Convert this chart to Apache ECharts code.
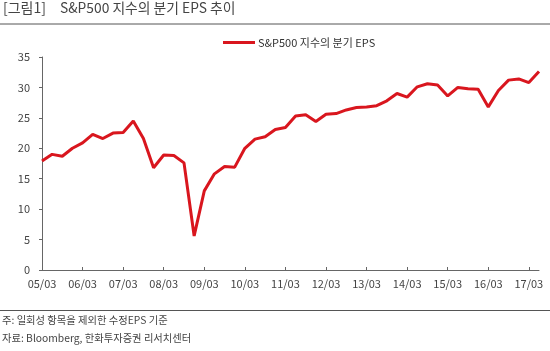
<!DOCTYPE html>
<html>
<head>
    <meta charset="utf-8">
    <title>S&amp;P500 분기 EPS</title>
    <script type="text/javascript" src="https://cdn.jsdelivr.net/npm/echarts@6/dist/echarts.min.js"></script>
    <style>
        body { margin: 0; background: #fff; }
        #main { width: 550px; height: 351px; }
    </style>
</head>
<body>
<div id="main"></div>

<script type="text/javascript">
    // 분기 라벨 (05/03 ~ 17/06)
    var quarters = [];
    for (var y = 5; y <= 17; y++) {
        var yy = (y < 10 ? '0' : '') + y;
        ['03', '06', '09', '12'].forEach(function (m) { quarters.push(yy + '/' + m); });
    }
    quarters = quarters.slice(0, 50);

    // 분기 EPS
    var eps = [
        17.9, 19.0, 18.7, 20.0, 20.9, 22.3, 21.6, 22.5,
        22.6, 24.5, 21.6, 16.8, 18.9, 18.8, 17.6, 5.6,
        13.0, 15.8, 17.0, 16.9, 20.0, 21.5, 21.9, 23.1,
        23.4, 25.3, 25.5, 24.4, 25.6, 25.7, 26.3, 26.7,
        26.8, 27.0, 27.8, 29.0, 28.4, 30.1, 30.6, 30.4,
        28.6, 30.0, 29.8, 29.7, 26.8, 29.5, 31.2, 31.4,
        30.8, 32.6
    ];

    var yTicks = [0, 5, 10, 15, 20, 25, 30, 35];
    var seriesName = 'S&P500 지수의 분기 EPS';
    var font = '"Noto Sans CJK KR", "Noto Sans", sans-serif';

    var myChart = echarts.init(document.getElementById('main'));
    var option = {
        backgroundColor: '#fff',
        animation: false,
        textStyle: { fontFamily: font },
        legend: {
            data: [seriesName],
            top: 32,
            left: 218,
            itemWidth: 32,
            itemHeight: 3,
            itemGap: 2,
            icon: 'rect',
            textStyle: { fontSize: 11, color: '#333', fontFamily: font, padding: [0, 0, 0, -2] }
        },
        grid: { left: 42, right: 11, top: 57, bottom: 81 },
        xAxis: {
            type: 'category',
            data: quarters,
            boundaryGap: false,
            axisLine: { lineStyle: { color: '#666' } },
            axisTick: { inside: true, length: 3, interval: 3, lineStyle: { color: '#666' } },
            axisLabel: { interval: 3, color: '#444', fontSize: 11, margin: 8 }
        },
        yAxis: {
            type: 'value',
            min: yTicks[0],
            max: yTicks[yTicks.length - 1],
            interval: 5,
            axisLine: { show: true, lineStyle: { color: '#666' } },
            axisTick: { show: true, length: 3, lineStyle: { color: '#666' } },
            axisLabel: { color: '#444', fontSize: 11, margin: 12 },
            splitLine: { show: false }
        },
        series: [{
            name: seriesName,
            type: 'line',
            data: eps,
            symbol: 'none',
            lineStyle: { color: '#d9161e', width: 3 },
            itemStyle: { color: '#d9161e' }
        }],
        graphic: [
            { type: 'text', left: 3, top: 1, style: { text: '[그림1]', fontSize: 14, fill: '#444', fontFamily: font } },
            { type: 'text', left: 60, top: 1, style: { text: 'S&P500 지수의 분기 EPS 추이', fontSize: 13.8, fill: '#444', fontFamily: font } },
            { type: 'line', shape: { x1: 0, y1: 24, x2: 550, y2: 24 }, style: { stroke: '#555', lineWidth: 1 } },
            { type: 'line', shape: { x1: 0, y1: 310.5, x2: 550, y2: 310.5 }, style: { stroke: '#555', lineWidth: 1 } },
            { type: 'text', left: 2, top: 315, style: { text: '주: 일회성 항목을 제외한 수정EPS 기준', fontSize: 10.3, fill: '#444', fontFamily: font } },
            { type: 'text', left: 2, top: 333, style: { text: '자료: Bloomberg, 한화투자증권 리서치센터', fontSize: 10.3, fill: '#444', fontFamily: font } }
        ]
    };
    myChart.setOption(option);
</script>
</body>
</html>
